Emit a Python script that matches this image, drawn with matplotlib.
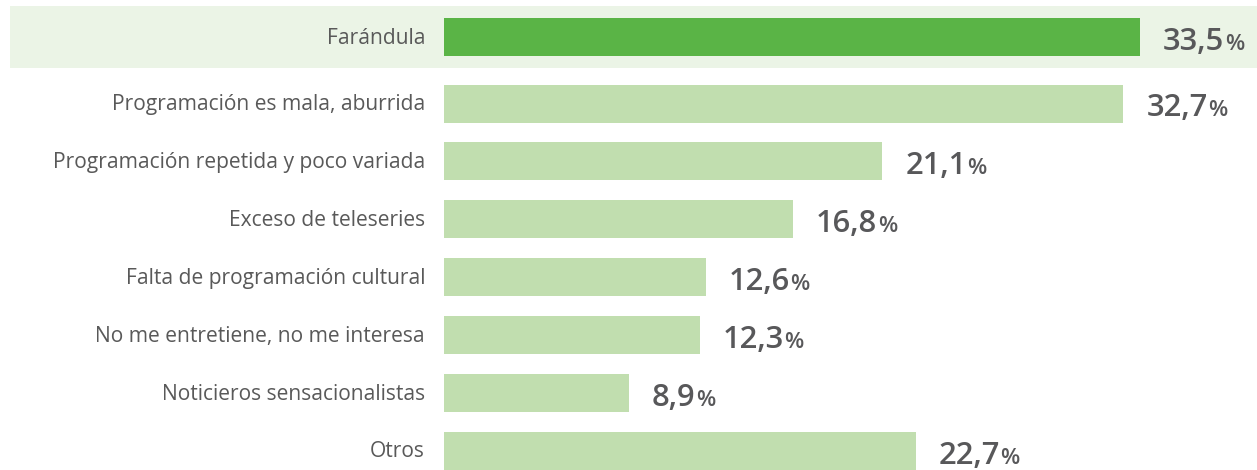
import matplotlib
matplotlib.use("Agg")
import matplotlib.pyplot as plt
from matplotlib.patches import Rectangle

categories = ["Farándula", "Programación es mala, aburrida", "Programación repetida y poco variada",
              "Exceso de teleseries", "Falta de programación cultural", "No me entretiene, no me interesa",
              "Noticieros sensacionalistas", "Otros"]
values = [33.5, 32.7, 21.1, 16.8, 12.6, 12.3, 8.9, 22.7]
value_labels = ["33,5", "32,7", "21,1", "16,8", "12,6", "12,3", "8,9", "22,7"]

W, H = 1257, 470
fig = plt.figure(figsize=(W / 100, H / 100), dpi=100)
fig.patch.set_facecolor("white")

# axes: x=0 at pixel 444, 33.5 at pixel 1140
x0 = 444
scale = (1140 - 444) / 33.5
ax = fig.add_axes([x0 / W, 0, (W - x0) / W, 1])
ax.set_xlim(0, (W - x0) / scale)
ax.set_ylim(H, 0)
ax.axis("off")
ax.set_zorder(2)

# highlight band behind first row (figure coords)
band = Rectangle((10 / W, 1 - 68 / H), (W - 10) / W, 62 / H, transform=fig.transFigure,
                 facecolor="#ebf4e6", edgecolor="none", zorder=-1)
fig.patches.append(band)

ypos = [37] + [103.5 + 57.9 * i for i in range(len(values) - 1)]
colors = ["#5ab446"] + ["#c1deaf"] * (len(values) - 1)
ax.barh(ypos, values, height=38, color=colors, edgecolor="none", zorder=2)

font = "Open Sans"
renderer = fig.canvas.get_renderer()

def fit_size(text, target_px, weight="normal"):
    t = fig.text(0, 0, text, fontsize=10, family=font, weight=weight)
    w = t.get_window_extent(renderer).width
    t.remove()
    return 10 * target_px / w

lab_size = fit_size("Programación repetida y poco variada", 373)
num_size = fit_size("33,5", 62, weight="semibold")

for y, cat in zip(ypos, categories):
    fig.text(425 / W, 1 - (y + 1) / H, cat, ha="right", va="center", fontsize=lab_size,
             family=font, color="#595959", zorder=3)

for y, v, lab in zip(ypos, values, value_labels):
    xe = x0 + v * scale + 23
    t = fig.text(xe / W, 1 - (y + 13) / H, lab, ha="left", va="baseline", fontsize=num_size,
                 family=font, weight="semibold", color="#58585a", zorder=3)
    bb = t.get_window_extent(renderer)
    fig.text((bb.x1 + 0.5) / W, 1 - (y + 13) / H, "%", ha="left", va="baseline",
             fontsize=num_size * 0.72, family=font, weight="semibold", color="#58585a", zorder=3)

fig.savefig("out.png", dpi=100, facecolor="white")
